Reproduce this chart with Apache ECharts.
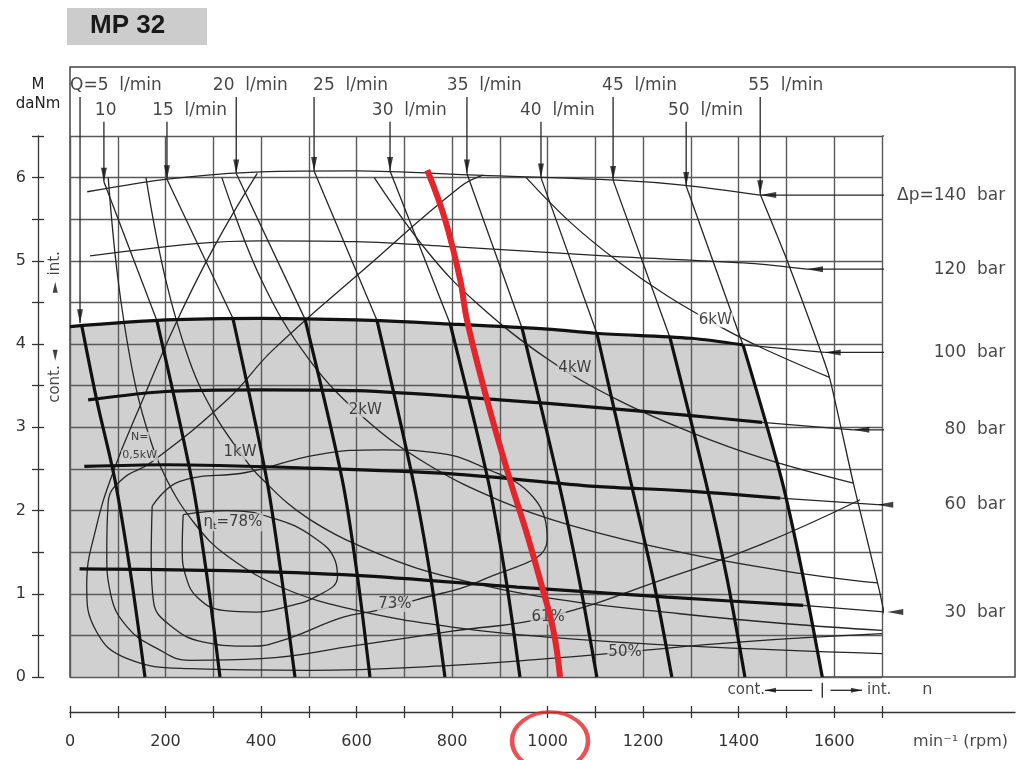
<!DOCTYPE html>
<html>
<head>
<meta charset="utf-8">
<title>MP 32</title>
<script src="https://cdn.jsdelivr.net/npm/echarts@6/dist/echarts.min.js"></script>
<style>
  html, body { margin: 0; padding: 0; background: #fff; }
  #chart { width: 1021px; height: 760px; }
</style>
</head>
<body>
<div id="chart"></div>
<script>
// ---- axis ticks and labels ----
const rpmTicks = [0, 100, 200, 300, 400, 500, 600, 700, 800, 900, 1000, 1100, 1200, 1300, 1400, 1500, 1600, 1700]
const rpmLabels = [0, 200, 400, 600, 800, 1000, 1200, 1400, 1600]
const torqueLabels = [0, 1, 2, 3, 4, 5, 6]

// ---- flow lines Q (l/min): [rpm, daNm] ----
const flowLabels = ['Q=5  l/min', '10', '15  l/min', '20  l/min', '25  l/min', '30  l/min', '35  l/min', '40  l/min', '45  l/min', '50  l/min', '55  l/min']
const flowLabelRow = [1, 2, 2, 1, 1, 2, 1, 2, 1, 2, 1]
const flowLabelStart = [0, 52, 172, 299, 509, 632, 789, 942, 1114, 1252, 1420]
const flowTips = [[21, 4.25], [71, 5.95], [203, 5.98], [348, 6.05], [511, 6.08], [670, 6.08], [831, 6.05], [986, 6.0], [1137, 5.97], [1290, 5.9], [1445, 5.8]]
// thin part (intermittent zone)
const flowUpper = [
  [],
  [[71, 5.95], [182, 4.28]],
  [[203, 5.98], [341, 4.31]],
  [[348, 6.05], [492, 4.30]],
  [[511, 6.08], [643, 4.28]],
  [[670, 6.08], [796, 4.24]],
  [[831, 6.05], [946, 4.20]],
  [[986, 6.0], [1103, 4.13]],
  [[1137, 5.97], [1256, 4.08]],
  [[1290, 5.9], [1409, 3.99]],
  [[1445, 5.8], [1501, 5.01], [1560, 4.1], [1590, 3.6], [1640, 2.33], [1696, 1.0], [1731, 0]]
]
// thick part (continuous zone)
const flowLower = [
  [[25, 4.21], [57, 3.3], [94, 2.37], [128, 1.2], [157, 0]],
  [[182, 4.28], [255, 2.37], [287, 1.2], [314, 0]],
  [[341, 4.31], [412, 2.37], [443, 1.2], [471, 0]],
  [[492, 4.30], [570, 2.37], [602, 1.2], [628, 0]],
  [[643, 4.28], [718, 2.37], [755, 1.2], [785, 0]],
  [[796, 4.24], [875, 2.37], [912, 1.2], [942, 0]],
  [[946, 4.20], [1022, 2.37], [1065, 1.2], [1103, 0]],
  [[1103, 4.13], [1173, 2.37], [1220, 1.2], [1260, 0]],
  [[1256, 4.08], [1330, 2.37], [1375, 1.2], [1413, 0]],
  [[1409, 3.99], [1490, 2.37], [1535, 1.2], [1575, 0]],
  []
]

// ---- pressure lines Δp (bar) ----
const pressureLabels = ['Δp=140  bar', '120  bar', '100  bar', '80  bar', '60  bar', '30  bar']
const pressureThick = [
  [],
  [],
  [[0, 4.21], [200, 4.29], [400, 4.31], [600, 4.29], [800, 4.24], [1000, 4.18], [1100, 4.13], [1300, 4.07], [1409, 3.99]],
  [[38, 3.33], [200, 3.43], [400, 3.45], [600, 3.44], [900, 3.33], [1100, 3.24], [1300, 3.14], [1449, 3.06]],
  [[30, 2.53], [200, 2.55], [500, 2.51], [800, 2.44], [1100, 2.29], [1280, 2.24], [1487, 2.15]],
  [[20, 1.30], [300, 1.28], [600, 1.22], [936, 1.08], [1250, 0.96], [1535, 0.86]]
]
const pressureThin = [
  [[36, 5.83], [200, 5.98], [400, 6.07], [600, 6.08], [850, 6.03], [1145, 5.97], [1283, 5.91], [1445, 5.79]],
  [[42, 5.06], [270, 5.21], [400, 5.24], [600, 5.23], [800, 5.17], [1145, 5.05], [1424, 4.97], [1543, 4.90]],
  [[1409, 3.99], [1580, 3.90]],
  [[1449, 3.06], [1640, 2.97]],
  [[1487, 2.15], [1690, 2.07]],
  [[1535, 0.86], [1711, 0.78]]
]
const pressureTips = [[1445, 5.79], [1543, 4.90], [1580, 3.90], [1640, 2.97], [1690, 2.07], [1711, 0.78]]
const pressureLeaderEnd = [1723, 1795, 1795, 1795, 1795, 1795]

// ---- power curves N (kW) ----
const power05 = [[80, 6.0], [100, 4.8], [130, 3.7], [160, 3.0], [200, 2.4], [260, 1.85], [330, 1.45], [450, 1.06], [600, 0.8], [800, 0.6], [1000, 0.48], [1300, 0.37], [1700, 0.28]]
const power1 = [[159, 6.0], [200, 4.78], [250, 3.8], [300, 3.18], [356, 2.7], [400, 2.39], [500, 1.9], [650, 1.47], [800, 1.19], [1000, 0.95], [1277, 0.76], [1500, 0.64], [1700, 0.56]]
const power2 = [[318, 6.0], [400, 4.78], [500, 3.82], [618, 3.1], [750, 2.55], [900, 2.12], [1050, 1.82], [1277, 1.5], [1500, 1.27], [1690, 1.13]]
const power4 = [[637, 6.0], [750, 5.1], [850, 4.5], [1000, 3.82], [1150, 3.32], [1300, 2.94], [1450, 2.63], [1640, 2.33]]
const power6 = [[955, 6.0], [1050, 5.45], [1150, 4.98], [1250, 4.58], [1361, 4.21], [1450, 3.95], [1590, 3.6]]

// ---- efficiency contours ηt ----
const eff78 = [[237, 1.95], [330, 2.0], [430, 1.9], [510, 1.68], [555, 1.4], [560, 1.2], [520, 0.98], [450, 0.84], [390, 0.78], [320, 0.8], [268, 0.95], [243, 1.2], [235, 1.55], [237, 1.95]]
const eff73 = [[172, 2.05], [230, 2.35], [371, 2.46], [517, 2.67], [655, 2.73], [760, 2.7], [865, 2.52], [970, 2.16], [999, 1.65], [865, 1.17], [727, 0.93], [643, 0.8], [572, 0.72], [450, 0.45], [380, 0.37], [280, 0.42], [210, 0.62], [175, 0.9], [170, 1.4], [172, 2.05]]
const eff61 = [[865, 6.03], [817, 5.89], [620, 4.92], [425, 3.93], [329, 3.33], [168, 2.57], [110, 2.38], [80, 2.1], [77, 1.5], [85, 1.0], [120, 0.6], [180, 0.35], [251, 0.2], [400, 0.22], [600, 0.38], [800, 0.55], [1000, 0.72], [1256, 1.2], [1450, 1.6], [1654, 2.13]]
const eff50 = [[392, 6.05], [300, 5.15], [220, 4.23], [150, 3.3], [94, 2.52], [55, 1.8], [35, 1.1], [55, 0.55], [120, 0.22], [250, 0.1], [500, 0.08], [800, 0.14], [1000, 0.22], [1162, 0.3], [1400, 0.42], [1700, 0.52]]

// ---- marked operating line (red) ----
const redLine = [[748, 6.09], [785, 5.5], [817, 4.77], [831, 4.29], [873, 3.33], [921, 2.37], [955, 1.75], [984, 1.17], [1012, 0.56], [1026, 0]]
const redMark = [1005, -0.77]

// ---- layout (pixels) ----
const PX = { left: 70, right: 882, top: 136, bottom: 677, frameRight: 1015, frameTop: 67 }
const frameMax = 1700 * (PX.frameRight - PX.left) / (PX.right - PX.left)
const frameTopM = 6.5 * (PX.bottom - PX.frameTop) / (PX.bottom - PX.top)

const font = 'DejaVu Sans'
const INK = '#161616'
const THICK = { color: '#111', width: 3.2 }
const THIN = { color: '#262626', width: 1.3 }
const GRIDLINE = { color: '#5a5a5a', width: 1.4 }
const FILL = '#d0d0d0'

const series = []

function addLine(points, style, extra) {
  if (!points.length) return
  series.push(Object.assign({
    type: 'line', data: points, symbol: 'none', clip: false, silent: true,
    smooth: 0.3, lineStyle: style, z: 3, animation: false
  }, extra || {}))
}

function arrow(pt, dir, w, h) {
  const rot = { down: 180, left: 90, up: 0, right: -90 }[dir]
  const off = { down: [0, -h / 2], left: [h / 2, 0], up: [0, h / 2], right: [-h / 2, 0] }[dir]
  return { value: pt, symbolSize: [w, h], symbolRotate: rot, symbolOffset: off }
}

function text(pt, str, opts) {
  return { value: pt, label: Object.assign({ formatter: str }, opts || {}) }
}

// continuous zone fill (100 bar line, then the 50 l/min line)
addLine(pressureThick[2].concat(flowLower[9].slice(1)), { width: 0 }, {
  areaStyle: { color: FILL, opacity: 1 }, z: 1, smooth: false
})
// top line of the grid extended to the frame
addLine([[1700, 6.5], [frameMax, 6.5]], GRIDLINE, { smooth: false, z: 1.5 })

// efficiency contours
;[eff78, eff73, eff61, eff50].forEach(p => addLine(p, THIN, { smooth: 0.45 }))
// power curves
;[power05, power1, power2, power4, power6].forEach(p => addLine(p, THIN, { smooth: 0.4 }))
// pressure lines
pressureThin.forEach(p => addLine(p, THIN))
pressureThick.forEach(p => addLine(p, THICK, { z: 4 }))
// flow lines
flowUpper.forEach(p => addLine(p, THIN, { smooth: 0.2 }))
flowLower.forEach(p => addLine(p, THICK, { z: 4, smooth: 0.3 }))

// leaders + arrowheads
const arrows = []
flowTips.forEach((tip, i) => {
  const top = flowLabelRow[i] === 1 ? 6.97 : 6.67
  addLine([[tip[0], top], tip], THIN, { smooth: false })
  arrows.push(arrow(tip, 'down', 6, 14))
})
pressureTips.forEach((tip, i) => {
  addLine([tip, [pressureLeaderEnd[i], tip[1]]], THIN, { smooth: false })
  arrows.push(arrow(tip, 'left', 6, 16))
})

// cont./int. markers on the torque axis and under the speed axis
addLine([[-31, 4.4], [-31, 4.75]], THIN, { smooth: false })
addLine([[-31, 4.1], [-31, 3.8]], THIN, { smooth: false })
addLine([[-48, 4.25], [-15, 4.25]], THIN, { smooth: false })
arrows.push(arrow([-31, 4.75], 'up', 5, 11), arrow([-31, 3.8], 'down', 5, 11))
addLine([[1554, -0.16], [1455, -0.16]], THIN, { smooth: false })
addLine([[1592, -0.16], [1658, -0.16]], THIN, { smooth: false })
addLine([[1575, -0.07], [1575, -0.25]], THIN, { smooth: false })
arrows.push(arrow([1455, -0.16], 'left', 5, 11), arrow([1658, -0.16], 'right', 5, 11))

series.push({
  type: 'scatter', data: arrows, clip: false, silent: true, z: 6, animation: false,
  symbol: 'triangle', itemStyle: { color: '#111' }
})

// red operating line and the circled speed
addLine(redLine, { color: '#e3262b', width: 6 }, { z: 10, smooth: 0.4 })
series.push({
  type: 'scatter', data: [redMark], clip: false, silent: true, z: 10, animation: false,
  symbol: 'circle', symbolSize: [76, 58],
  itemStyle: { color: 'rgba(0,0,0,0)', borderColor: '#e3262b', borderWidth: 4 }
})

// texts
const texts = []
flowLabels.forEach((s, i) => {
  texts.push(text([flowLabelStart[i], flowLabelRow[i] === 1 ? 7.1 : 6.81], s))
})
pressureLabels.forEach((s, i) => {
  texts.push(text([1958, pressureTips[i][1]], s, { align: 'right' }))
})
const grayTag = { backgroundColor: FILL, padding: [0, 1], fontSize: 15, align: 'center' }
texts.push(text([146, 2.88], 'N=', Object.assign({}, grayTag, { fontSize: 11 })))
texts.push(text([146, 2.66], '0,5kW', Object.assign({}, grayTag, { fontSize: 11 })))
texts.push(text([356, 2.7], '1kW', grayTag))
texts.push(text([618, 3.21], '2kW', grayTag))
texts.push(text([1057, 3.71], '4kW', grayTag))
texts.push(text([1351, 4.29], '6kW', Object.assign({}, grayTag, { backgroundColor: '#fff' })))
texts.push(text([341, 1.86], '{a|η}{b|t}{a|=78%}', Object.assign({}, grayTag, {
  rich: {
    a: { fontSize: 15, fontFamily: font, color: INK },
    b: { fontSize: 9, fontFamily: font, color: INK, padding: [9, 0, 0, 0] }
  }
})))
texts.push(text([680, 0.87], '73%', grayTag))
texts.push(text([1001, 0.72], '61%', grayTag))
texts.push(text([1162, 0.3], '50%', grayTag))
texts.push(text([-31, 4.97], 'int.', { rotate: 90, align: 'center', fontSize: 15 }))
texts.push(text([-31, 3.52], 'cont.', { rotate: 90, align: 'center', fontSize: 15 }))
texts.push(text([1416, -0.16], 'cont.', { align: 'center', fontSize: 15 }))
texts.push(text([1694, -0.16], 'int.', { align: 'center', fontSize: 15 }))
texts.push(text([1795, -0.15], 'n', { align: 'center', fontSize: 16 }))
texts.push(text([1765, -0.78], 'min⁻¹ (rpm)', { align: 'left', fontSize: 16 }))

series.push({
  type: 'scatter', data: texts, clip: false, silent: true, z: 8, animation: false,
  symbolSize: 0,
  label: {
    show: true, position: [0, 0], align: 'left', verticalAlign: 'middle',
    color: INK, fontFamily: font, fontSize: 17
  }
})

const chart = echarts.init(document.getElementById('chart'), null, { renderer: 'canvas' })
chart.setOption({
  animation: false,
  backgroundColor: '#fff',
  grid: [
    { left: PX.left, right: 1021 - PX.right, top: PX.top, bottom: 760 - PX.bottom },
    {
      left: PX.left, right: 1021 - PX.frameRight, top: PX.frameTop, bottom: 760 - PX.bottom,
      show: true, borderColor: '#444', borderWidth: 1.5, backgroundColor: 'rgba(0,0,0,0)'
    }
  ],
  xAxis: [
    {
      gridIndex: 0, type: 'value', min: 0, max: 1700, interval: 100, z: 1.5,
      axisLine: { show: false }, axisTick: { show: false }, axisLabel: { show: false },
      splitLine: { show: true, lineStyle: GRIDLINE }
    },
    {
      gridIndex: 1, type: 'value', min: 0, max: frameMax, position: 'bottom', offset: 35,
      axisLine: { show: true, onZero: false, lineStyle: { color: '#333', width: 1.3 } },
      axisTick: { show: true, customValues: rpmTicks, length: 6, lineStyle: { color: '#333', width: 1.3 } },
      axisLabel: {
        show: true, customValues: rpmLabels, margin: 22, fontSize: 16, color: '#333', fontFamily: font,
        formatter: v => String(v)
      },
      splitLine: { show: false }
    },
    {
      gridIndex: 1, type: 'value', min: 0, max: frameMax, position: 'bottom', offset: 35,
      axisLine: { show: false, onZero: false },
      axisTick: { show: true, inside: true, customValues: rpmTicks, length: 6, lineStyle: { color: '#333', width: 1.3 } },
      axisLabel: { show: false }, splitLine: { show: false }
    }
  ],
  yAxis: [
    {
      gridIndex: 0, type: 'value', min: 0, max: 6.5, interval: 0.5, position: 'left', offset: 32, z: 1.5,
      axisLine: { show: true, onZero: false, lineStyle: { color: '#333', width: 1.3 } },
      axisTick: { show: true, length: 6, lineStyle: { color: '#333', width: 1.3 } },
      axisLabel: { show: true, customValues: torqueLabels, margin: 12, fontSize: 16, color: '#333', fontFamily: font },
      splitLine: { show: true, lineStyle: GRIDLINE },
      name: 'M\ndaNm', nameLocation: 'end', nameGap: 22,
      nameTextStyle: { color: '#222', fontFamily: font, fontSize: 15, align: 'center', lineHeight: 19, verticalAlign: 'bottom' }
    },
    {
      gridIndex: 0, type: 'value', min: 0, max: 6.5, interval: 0.5, position: 'left', offset: 32,
      axisLine: { show: false, onZero: false },
      axisTick: { show: true, inside: true, length: 6, lineStyle: { color: '#333', width: 1.3 } },
      axisLabel: { show: false }, splitLine: { show: false }
    },
    { gridIndex: 1, type: 'value', min: 0, max: frameTopM, show: false }
  ],
  graphic: [
    { type: 'rect', left: 67, top: 8, shape: { width: 140, height: 37 }, style: { fill: '#cccccc' } },
    {
      type: 'text', left: 90, top: 13,
      style: { text: 'MP 32', fontFamily: 'Liberation Sans', fontWeight: 'bold', fontSize: 26, fill: '#1a1a1a' }
    }
  ],
  series: series
})
</script>
</body>
</html>
